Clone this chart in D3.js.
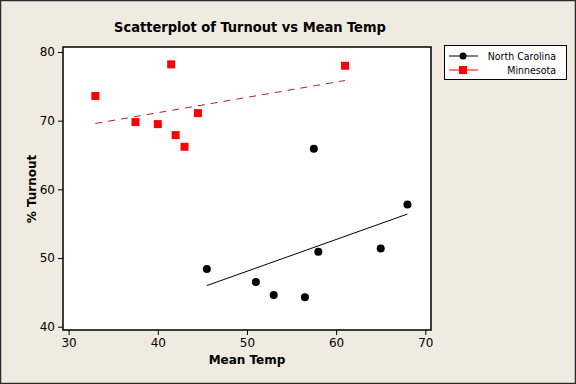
<!DOCTYPE html>
<html>
<head>
<meta charset="utf-8">
<script src="https://cdn.jsdelivr.net/npm/d3@7"></script>
<style>
  html, body { margin: 0; padding: 0; background: #EFEBE1; }
  svg { display: block; }
</style>
</head>
<body>
<svg id="chart" width="576" height="384"></svg>
<script>
// ---- Data ----
const seriesNames = ["North Carolina", "Minnesota"];
const ncTemp    = [45.5, 51.0, 53.0, 56.5, 57.5, 58.0, 65.0, 68.0];
const ncTurnout = [48.4, 46.5, 44.6, 44.3, 65.9, 50.9, 51.4, 57.8];
const mnTemp    = [33.0, 37.5, 40.0, 41.5, 42.0, 43.0, 44.5, 61.0];
const mnTurnout = [73.6, 69.8, 69.5, 78.2, 67.9, 66.2, 71.1, 78.0];
const xTicks = [30, 40, 50, 60, 70];
const yTicks = [40, 50, 60, 70, 80];

const svg = d3.select("#chart");
const W = 576, H = 384;
const font = "Tahoma, 'DejaVu Sans', Verdana, sans-serif";
const fontC = "'DejaVu Sans Condensed', Tahoma, 'DejaVu Sans', sans-serif";

// background and outer border
svg.append("rect").attr("x", 0.5).attr("y", 0.5).attr("width", W - 1).attr("height", H - 1)
  .attr("fill", "#EFEBE1").attr("stroke", "#2b2b2b").attr("stroke-width", 1.5);

const plot = { left: 63, right: 431, top: 47, bottom: 330 };
const x = d3.scaleLinear().domain([29.37, 70.64]).range([plot.left, plot.right]);
const y = d3.scaleLinear().domain([39.52, 80.73]).range([plot.bottom, plot.top]);

// plot area
svg.append("rect").attr("x", plot.left).attr("y", plot.top)
  .attr("width", plot.right - plot.left).attr("height", plot.bottom - plot.top)
  .attr("fill", "#ffffff").attr("stroke", "#000").attr("stroke-width", 1.5);

// axes
const xAxis = svg.append("g").attr("transform", `translate(0,${plot.bottom})`)
  .call(d3.axisBottom(x).tickValues(xTicks).tickSize(5).tickPadding(3).tickFormat(d3.format("d")));
const yAxis = svg.append("g").attr("transform", `translate(${plot.left},0)`)
  .call(d3.axisLeft(y).tickValues(yTicks).tickSize(5).tickPadding(3).tickFormat(d3.format("d")));
[xAxis, yAxis].forEach(a => {
  a.select(".domain").remove();
  a.selectAll("line").attr("stroke", "#000");
  a.selectAll("text").attr("fill", "#000").style("font-family", font).style("font-size", "12px");
});

// title & axis labels
svg.append("text").attr("x", 250).attr("y", 32).attr("text-anchor", "middle")
  .style("font-family", fontC).style("font-size", "14.5px").style("font-weight", "bold")
  .text("Scatterplot of Turnout vs Mean Temp");
svg.append("text").attr("x", 247).attr("y", 364).attr("text-anchor", "middle")
  .style("font-family", font).style("font-size", "12px").style("font-weight", "bold")
  .text("Mean Temp");
svg.append("text").attr("transform", "translate(36,189) rotate(-90)").attr("text-anchor", "middle")
  .style("font-family", font).style("font-size", "12px").style("font-weight", "bold")
  .text("% Turnout");

// regression helper
function fit(xs, ys) {
  const mx = d3.mean(xs), my = d3.mean(ys);
  let sxy = 0, sxx = 0;
  xs.forEach((v, i) => { sxy += (v - mx) * (ys[i] - my); sxx += (v - mx) ** 2; });
  const b = sxy / sxx, a = my - b * mx;
  const x0 = d3.min(xs), x1 = d3.max(xs);
  return [[x0, a + b * x0], [x1, a + b * x1]];
}
const line = d3.line().x(d => x(d[0])).y(d => y(d[1]));

// North Carolina
svg.append("path").attr("d", line(fit(ncTemp, ncTurnout)))
  .attr("stroke", "#000").attr("stroke-width", 1).attr("fill", "none");
svg.append("g").selectAll("circle").data(ncTemp).join("circle")
  .attr("cx", d => x(d)).attr("cy", (d, i) => y(ncTurnout[i])).attr("r", 4).attr("fill", "#000");

// Minnesota
svg.append("path").attr("d", line(fit(mnTemp, mnTurnout)))
  .attr("stroke", "#B22222").attr("stroke-width", 1).attr("stroke-dasharray", "7,6").attr("fill", "none");
svg.append("g").selectAll("rect").data(mnTemp).join("rect")
  .attr("x", d => x(d) - 4).attr("y", (d, i) => y(mnTurnout[i]) - 4)
  .attr("width", 8).attr("height", 8).attr("fill", "#FF0000");

// legend
const lg = svg.append("g");
lg.append("rect").attr("x", 444.5).attr("y", 45.5).attr("width", 122).attr("height", 34)
  .attr("fill", "#fff").attr("stroke", "#000").attr("stroke-width", 1);
const ly = [56, 70];
lg.append("line").attr("x1", 449).attr("x2", 478).attr("y1", ly[0]).attr("y2", ly[0]).attr("stroke", "#000");
lg.append("circle").attr("cx", 463).attr("cy", ly[0]).attr("r", 3.5).attr("fill", "#000");
lg.append("line").attr("x1", 449).attr("x2", 478).attr("y1", ly[1]).attr("y2", ly[1]).attr("stroke", "#FF0000");
lg.append("rect").attr("x", 459).attr("y", ly[1] - 4).attr("width", 8).attr("height", 8).attr("fill", "#FF0000");
seriesNames.forEach((n, i) => {
  lg.append("text").attr("x", 556).attr("y", ly[i] + 4).attr("text-anchor", "end")
    .style("font-family", fontC).style("font-size", "10.5px").text(n);
});
</script>
</body>
</html>
